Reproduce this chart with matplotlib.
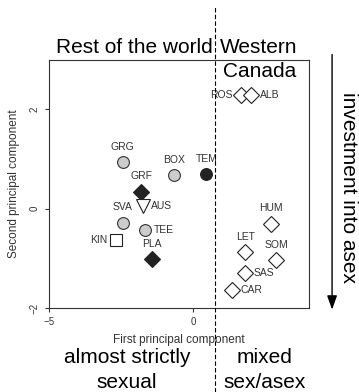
import matplotlib
matplotlib.use("Agg")
import matplotlib.pyplot as plt
from matplotlib.lines import Line2D
from matplotlib.patches import FancyArrowPatch

plt.rcParams["font.family"] = ["Liberation Sans", "DejaVu Sans"]

# Population scores.
labels = ["ROS", "ALB", "TEM", "BOX", "GRG", "GRF", "AUS", "SVA", "TEE",
          "KIN", "PLA", "HUM", "LET", "SOM", "SAS", "CAR"]
pc1 = [1.66, 2.0, 0.45, -0.66, -2.45, -1.8, -1.76, -2.45, -1.66,
       -2.69, -1.45, 2.69, 1.79, 2.86, 1.79, 1.34]
pc2 = [2.3, 2.3, 0.7, 0.68, 0.94, 0.34, 0.05, -0.28, -0.42,
       -0.62, -1.02, -0.3, -0.88, -1.04, -1.3, -1.64]
groups = ["open_d", "open_d", "black_c", "grey_c", "grey_c", "black_d", "tri",
          "grey_c", "grey_c", "square", "black_d", "open_d", "open_d",
          "open_d", "open_d", "open_d"]
label_side = ["left", "right", "top", "top", "top", "top", "right", "top",
              "right", "left", "top", "top", "top", "top", "right", "right"]

styles = {
    "open_d": dict(marker="D", mfc="white", mec="#222222", ms=8.5),
    "black_d": dict(marker="D", mfc="#222222", mec="#222222", ms=8.5),
    "grey_c": dict(marker="o", mfc="#cccccc", mec="#333333", ms=8.5),
    "black_c": dict(marker="o", mfc="#222222", mec="#222222", ms=8.5),
    "tri": dict(marker="v", mfc="white", mec="#222222", ms=10),
    "square": dict(marker="s", mfc="white", mec="#222222", ms=8),
}

SPLIT_X = 0.76
BIG = 15
SMALL = 7.5

fig = plt.figure(figsize=(3.59, 3.92), dpi=100)
ax = fig.add_axes([0.1365, 0.2143, 0.7242, 0.633])

for x, y, g in zip(pc1, pc2, groups):
    ax.plot(x, y, linestyle="None", mew=0.8, **styles[g])

for x, y, lab, side in zip(pc1, pc2, labels, label_side):
    if side == "top":
        ax.annotate(lab, (x, y), xytext=(0, 7.5), textcoords="offset points",
                    ha="center", va="bottom", fontsize=SMALL, color="#333333")
    elif side == "right":
        ax.annotate(lab, (x, y), xytext=(6, 0), textcoords="offset points",
                    ha="left", va="center", fontsize=SMALL, color="#333333")
    else:
        ax.annotate(lab, (x, y), xytext=(-6, 0), textcoords="offset points",
                    ha="right", va="center", fontsize=SMALL, color="#333333")

ax.set_xlim(-5, 4)
ax.set_ylim(-2, 3)
ax.set_xticks([-5, 0])
ax.set_yticks([-2, 0, 2])
ax.tick_params(labelsize=7, length=3, width=0.8, colors="#333333")
for lab in ax.get_yticklabels():
    lab.set_rotation(90)
    lab.set_va("center")
for s in ax.spines.values():
    s.set_linewidth(0.8)
    s.set_color("#333333")
ax.set_xlabel("First principal component", fontsize=8.5, color="#333333", labelpad=5)
ax.set_ylabel("Second principal component", fontsize=8.5, color="#333333", labelpad=7)

# Dashed split line across the whole figure
xf = fig.transFigure.inverted().transform(ax.transData.transform((SPLIT_X, 0)))[0]
fig.add_artist(Line2D([xf, xf], [0.0, 0.985], transform=fig.transFigure,
                      color="black", linestyle=(0, (4, 2)), linewidth=0.8))

fig.text(xf - 0.008, 0.855, "Rest of the world", ha="right", va="bottom", fontsize=BIG)
fig.text(xf + 0.012, 0.855, "Western", ha="left", va="bottom", fontsize=BIG)
ax.text(2.29, 2.95, "Canada", ha="center", va="top", fontsize=BIG)

# Right-hand arrow
fig.add_artist(FancyArrowPatch(
    (0.925, 0.868), (0.925, 0.203), transform=fig.transFigure,
    arrowstyle="-|>,head_length=0.7,head_width=0.25", mutation_scale=12,
    color="black", linewidth=1.0))
fig.text(0.97, 0.522, "investment into asex", rotation=-90, ha="center",
         va="center", fontsize=BIG)

fig.text(0.354, 0.089, "almost strictly", ha="center", va="center", fontsize=BIG)
fig.text(0.354, 0.025, "sexual", ha="center", va="center", fontsize=BIG)
fig.text(0.738, 0.089, "mixed", ha="center", va="center", fontsize=BIG)
fig.text(0.738, 0.025, "sex/asex", ha="center", va="center", fontsize=BIG)

fig.savefig("out.png", dpi=100)
